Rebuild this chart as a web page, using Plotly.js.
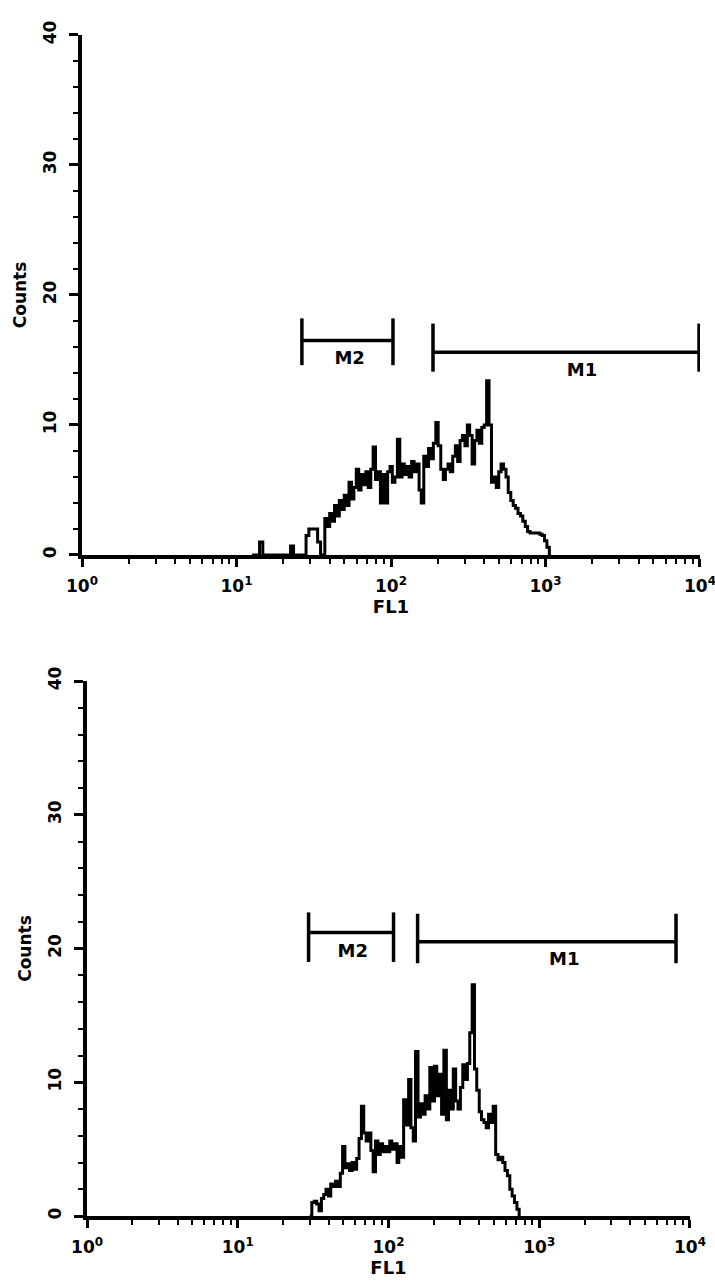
<!DOCTYPE html>
<html>
<head>
<meta charset="utf-8">
<script src="https://cdn.plot.ly/plotly-3.0.1.min.js"></script>
<style>
html,body{margin:0;padding:0;background:#fff;}
#chart{width:715px;height:1285px;}
</style>
</head>
<body>
<div id="chart"></div>
<script>
// ---------- DATA ----------
// Top histogram (FL1 channel value, counts)
const fl1Top = [12.6,13.6,14.1,14.8,21.4,22.4,23.4,26.9,28.2,29.4,31.6,33.5,35.0,
  36.0,37.3,38.7,40.1,41.6,43.1,44.7,46.3,48.0,49.8,51.6,53.5,55.5,57.5,59.6,61.8,64.0,66.4,68.8,71.3,74.0,76.6,79.4,82.4,85.4,88.5,91.8,95.1,98.6,
  102,106,110,114,118,122,127,131,136,141,147,152,157,163,169,175,182,188,195,202,210,218,225,234,242,251,261,270,280,290,301,312,323,335,348,360,373,387,401,416,431,447,463,480,498,516,535,555,574,596,618,640,664,689,713,740,766,794,824,853,885,918,951,986,1021,1059];
const countsTop = [0,0,1,0,0,0.7,0,0,1.5,2,2,1,0,
  0,2.8,2.2,3.2,2.6,3.8,3.0,4.2,3.5,4.6,3.8,5.6,4.3,5.2,6.6,5.0,6.2,5.4,6.4,5.2,6.6,8.3,5.8,6.4,4.0,6.2,4.0,6.4,6.8,
  5.6,6.0,8.9,6.0,7.0,6.2,6.8,6.0,7.2,6.4,7.0,5.0,4.0,7.6,6.8,8.2,7.4,8.6,10.2,8.4,6.6,5.8,6.6,7.0,6.4,7.6,8.4,7.2,8.8,9.2,8.4,10.0,9.2,7.0,8.8,9.6,8.6,9.8,10.0,13.4,10.0,5.6,6.0,5.2,6.4,7.0,6.6,6.0,4.8,4.2,3.8,3.6,3.2,3.0,2.6,2.2,1.8,1.7,1.7,1.7,1.7,1.6,1.5,1.1,0.6,0];

// Bottom histogram
const fl1Bottom = [30.0,31.0,32.2,33.4,34.6,35.9,37.2,38.5,40.0,41.4,42.9,44.5,46.1,47.9,49.6,51.4,53.3,55.2,57.3,59.3,61.5,63.8,66.1,68.5,71.1,73.6,76.4,79.1,82.0,85.1,88.1,91.4,94.8,98.2,
  102,105,109,114,117,122,126,131,136,141,146,151,157,163,169,175,181,188,195,202,209,217,225,233,242,250,259,269,279,289,300,311,322,334,346,359,372,385,400,414,430,445,461,479,495,514,533,552,573,593,615,638,661,685,711,736];
const countsBottom = [0,1.0,1.1,0.9,0.4,1.3,1.6,2.0,1.5,2.4,2.2,2.6,2.2,3.2,5.2,3.6,3.9,3.4,4.0,3.5,4.3,5.8,8.2,6.2,5.6,6.2,4.9,3.3,5.6,4.6,5.4,4.8,5.2,4.8,
  5.6,5.0,5.4,4.0,5.2,4.4,8.7,6.8,10.2,6.6,5.6,12.3,7.4,8.4,7.6,9.0,8.0,11.1,8.6,11.2,9.0,10.6,7.6,12.4,7.2,9.4,8.0,11.0,8.6,8.0,9.6,11.3,10.2,11.4,13.7,17.3,11.0,9.4,7.8,7.2,7.0,6.6,7.6,7.0,8.2,4.6,4.2,4.4,4.0,3.4,3.0,2.0,1.5,1.0,0.5,0];

// Marker gates: [low, high] in FL1, bar level, bracket bottom/top in counts
const gateNames = ["M2", "M1"];
const gatesTop = [[26.5, 103], [187, 9860]];
const gateLevelTop = [16.5, 15.6];
const gateSpanTop = [[14.6, 18.2], [14.1, 17.8]];
const gateLabelXTop = [54, 1722];
const gateLabelYTop = [15.0, 14.15];

const gatesBottom = [[29.5, 108], [156, 8080]];
const gateLevelBottom = [21.2, 20.5];
const gateSpanBottom = [[19.0, 22.7], [18.9, 22.6]];
const gateLabelXBottom = [58, 1465];
const gateLabelYBottom = [19.7, 19.1];

// Axis ticks
const xTickVals = [1, 10, 100, 1000, 10000];
const xTickText = ["10<sup>0</sup>", "10<sup>1</sup>", "10<sup>2</sup>", "10<sup>3</sup>", "10<sup>4</sup>"];
const yTickVals = [0, 10, 20, 30, 40];
const xTitle = "FL1";
const yTitle = "Counts";

// ---------- BUILD ----------
const FONT = "DejaVu Sans";
const ink = "#000";

function bracketTrace(gates, levels, spans, xa, ya) {
  const xs = [], ys = [];
  gates.forEach((g, i) => {
    xs.push(g[0], g[0], null, g[0], g[1], null, g[1], g[1], null);
    ys.push(spans[i][0], spans[i][1], null, levels[i], levels[i], null, spans[i][0], spans[i][1], null);
  });
  return {x: xs, y: ys, xaxis: xa, yaxis: ya, mode: "lines", line: {color: ink, width: 3.5}, hoverinfo: "skip", showlegend: false};
}
function labelTrace(lx, ly, xa, ya) {
  return {x: lx, y: ly, text: gateNames, xaxis: xa, yaxis: ya, mode: "text",
    textfont: {family: FONT, size: 18, color: ink, weight: "bold"}, showlegend: false, hoverinfo: "skip"};
}
function histTrace(x, y, xa, ya) {
  return {x: x, y: y, xaxis: xa, yaxis: ya, mode: "lines", line: {shape: "hv", color: ink, width: 3}, showlegend: false, hoverinfo: "skip"};
}

const traces = [
  histTrace(fl1Top, countsTop, "x", "y"),
  bracketTrace(gatesTop, gateLevelTop, gateSpanTop, "x", "y"),
  labelTrace(gateLabelXTop, gateLabelYTop, "x", "y"),
  histTrace(fl1Bottom, countsBottom, "x2", "y2"),
  bracketTrace(gatesBottom, gateLevelBottom, gateSpanBottom, "x2", "y2"),
  labelTrace(gateLabelXBottom, gateLabelYBottom, "x2", "y2")
];

const xMinor = [];
for (let d = 0; d < 4; d++) for (let k = 2; k <= 9; k++) xMinor.push(k * Math.pow(10, d));
const yMinor = [];
for (let v = 2; v < 40; v += 2) if (v % 10 !== 0) yMinor.push(v);

function xAxis(domain, anchor) {
  return {
    type: "log", range: [0, 4], domain: domain, anchor: anchor,
    showline: true, linecolor: ink, linewidth: 4, mirror: false,
    showgrid: false, zeroline: false,
    ticks: "outside", ticklen: 8, tickwidth: 3, tickcolor: ink,
    tickvals: xTickVals, ticktext: xTickText,
    ticklabeloverflow: "allow", ticklabelstandoff: 5,
    tickfont: {family: FONT, size: 17, color: ink, weight: "bold"},
    minor: {tickvals: xMinor, ticks: "outside", ticklen: 5, tickwidth: 2, tickcolor: ink, showgrid: false},
    title: {text: xTitle, font: {family: FONT, size: 18, color: ink, weight: "bold"}, standoff: 6},
    fixedrange: true
  };
}
function yAxis(domain, anchor) {
  return {
    range: [0, 40], domain: domain, anchor: anchor,
    showline: true, linecolor: ink, linewidth: 4,
    showgrid: false, zeroline: false,
    ticks: "outside", ticklen: 9, tickwidth: 3, tickcolor: ink,
    tickvals: yTickVals, tickangle: -90, ticklabelstandoff: 6,
    tickfont: {family: FONT, size: 17, color: ink, weight: "bold"},
    minor: {tickvals: yMinor, ticks: "outside", ticklen: 5, tickwidth: 2, tickcolor: ink, showgrid: false},
    title: {text: yTitle, font: {family: FONT, size: 17, color: ink, weight: "bold"}, standoff: 10},
    fixedrange: true
  };
}

const layout = {
  width: 715, height: 1285,
  margin: {l: 0, r: 0, t: 0, b: 0},
  paper_bgcolor: "#fff", plot_bgcolor: "#fff",
  showlegend: false,
  xaxis: xAxis([0.1147, 0.979], "y"),
  yaxis: yAxis([0.5681, 0.9728], "x"),
  xaxis2: xAxis([0.1217, 0.965], "y2"),
  yaxis2: yAxis([0.0537, 0.470], "x2")
};

Plotly.newPlot("chart", traces, layout, {displayModeBar: false, staticPlot: true});
</script>
</body>
</html>
